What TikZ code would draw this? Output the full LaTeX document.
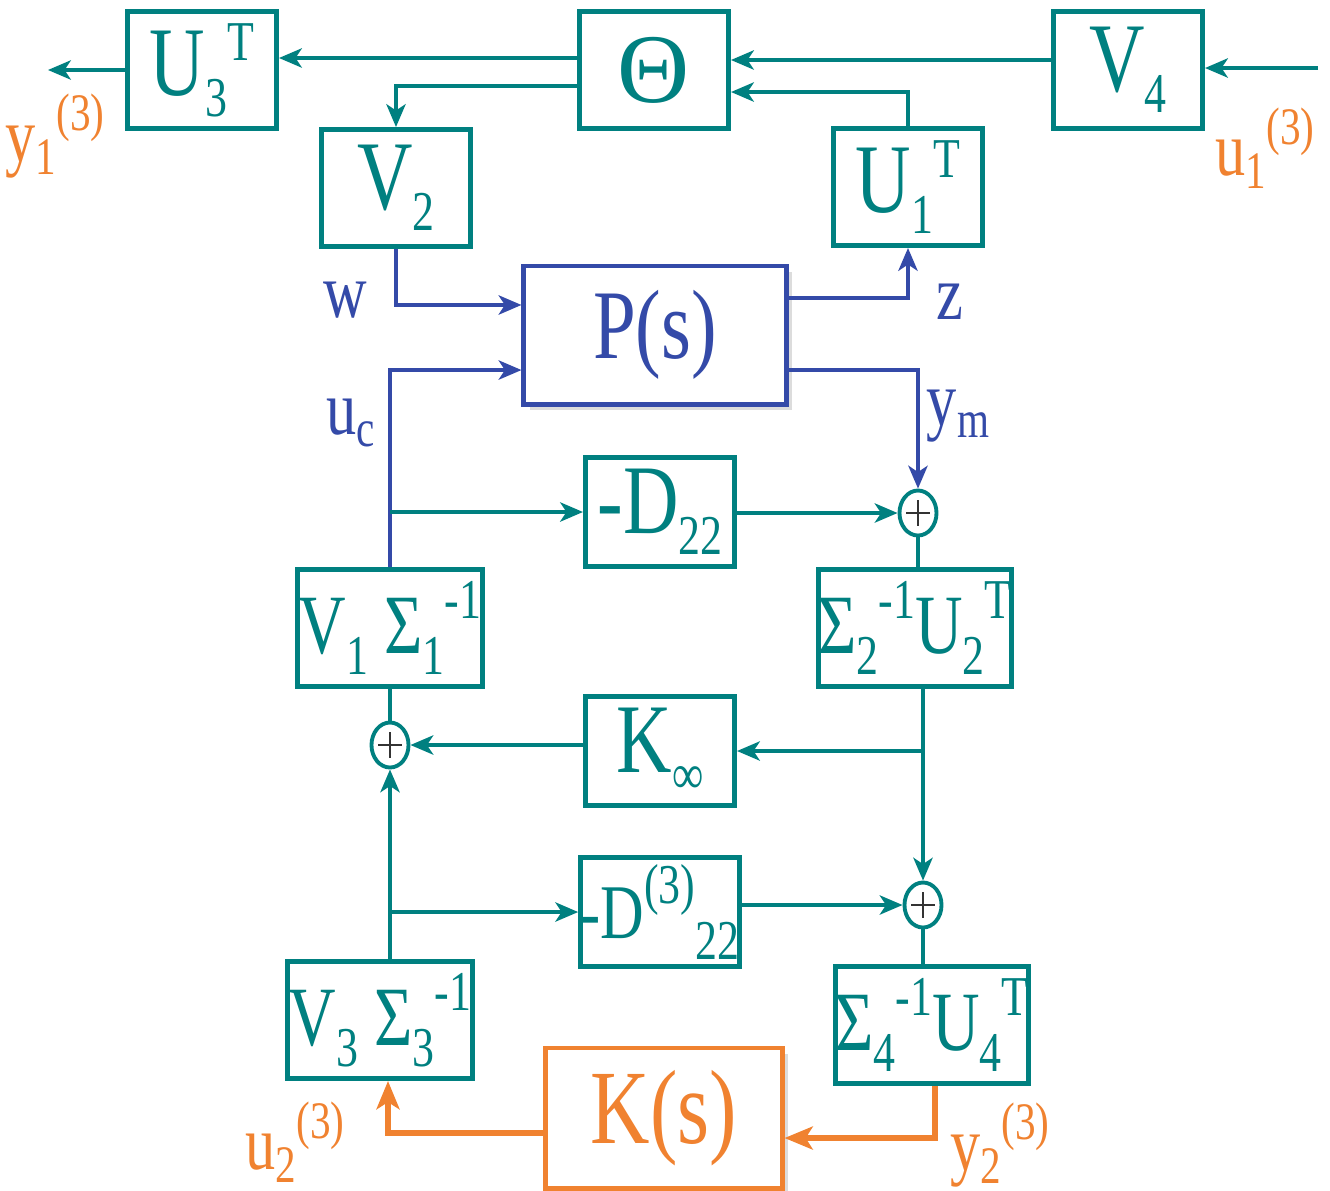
\documentclass[tikz,border=0pt]{standalone}
\usepackage{fontspec}
\newfontfamily\diagfont[FakeStretch=0.78]{Liberation Serif}
\usetikzlibrary{arrows.meta,shapes.geometric,shadows,calc}
\definecolor{myteal}{RGB}{0,128,128}
\definecolor{myblue}{RGB}{52,74,168}
\definecolor{myorange}{RGB}{240,130,48}
\newcommand{\boxfont}{\diagfont\fontsize{28}{32}\selectfont}
\newcommand{\wideboxfont}{\diagfont\fontsize{24}{28}\selectfont}
\newcommand{\narrowfont}{\diagfont\fontsize{22}{26}\selectfont}
\newcommand{\bigfont}{\diagfont\fontsize{30}{34}\selectfont}
\newcommand{\lblfont}{\diagfont\fontsize{22}{26}\selectfont}
\newcommand{\lo}[1]{\raisebox{-6pt}{\fontsize{16}{16}\selectfont #1}}
\newcommand{\hi}[1]{\raisebox{10pt}{\fontsize{16}{16}\selectfont #1}}
\newcommand{\llo}[1]{\raisebox{-3.5pt}{\fontsize{15}{15}\selectfont #1}}
\newcommand{\lhi}[1]{\raisebox{9pt}{\fontsize{15}{15}\selectfont #1}}
\tikzset{
  block/.style={
    draw=myteal,
    line width=1.4pt,
    fill=white,
    text=myteal,
    font=\boxfont,
    inner sep=0pt,
  },
  squarebox/.style={
    block,
    minimum width=1.49cm,
    minimum height=1.17cm,
  },
  widebox/.style={
    block,
    font=\wideboxfont,
    minimum width=1.85cm,
    minimum height=1.17cm,
  },
  gainbox/.style={
    block,
    minimum width=1.49cm,
    minimum height=1.09cm,
  },
  plantbox/.style={
    block,
    draw=myblue,
    text=myblue,
    minimum width=2.62cm,
    minimum height=1.38cm,
    drop shadow={shadow xshift=0.06cm, shadow yshift=-0.06cm, fill=gray!55},
  },
  ctrlbox/.style={
    plantbox,
    draw=myorange,
    text=myorange,
    font=\bigfont,
    minimum width=2.36cm,
    minimum height=1.40cm,
  },
  sumnode/.style={
    ellipse,
    draw=myteal,
    line width=1.1pt,
    fill=white,
    minimum width=0.37cm,
    minimum height=0.45cm,
    inner sep=0pt,
  },
  plusline/.style={black!80, line width=0.6pt},
  sig/.style={->, myteal, line width=1pt},
  link/.style={myteal, line width=1pt},
  bsig/.style={->, myblue, line width=1pt},
  osig/.style={->, myorange, line width=1.6pt,
    >={Stealth[length=8pt,width=6.5pt,inset=2pt]}},
  lbl/.style={font=\lblfont, inner sep=0pt},
}

\begin{document}
\begin{tikzpicture}[x=0.01cm, y=-0.01cm,
  >={Stealth[length=6.5pt,width=5.5pt,inset=1.8pt]}]

\useasboundingbox (0,0) rectangle (1330,1190);

% top row
\node[squarebox] (u3) at (202,70) {U\lo{3}\hi{T}};
\node[squarebox] (theta) at (654,70) {\scalebox{1.3}[1]{Θ}};
\node[squarebox] (v4) at (1128,70) {V\lo{4}};
\node[squarebox] (v2) at (396,188) {V\lo{2}};
\node[squarebox] (u1) at (908,187) {U\lo{1}\hi{T}};

% plant
\node[plantbox] (plant) at (655,335) {P(s)};

% inner loop
\node[gainbox] (d22) at (660,512) {-D\lo{22}};
\node[widebox] (v1) at (390,628) {V\lo{1} Σ\lo{1}\hi{-1}};
\node[widebox] (sig2) at (915,628) {Σ\lo{2}\hi{-1}U\lo{2}\hi{T}};
\node[gainbox] (kinf) at (660,751) {K\lo{∞}};
\node[gainbox, font=\narrowfont] (d322) at (660,912) {-D\hi{(3)}\lo{22}};
\node[widebox] (v3) at (380,1020) {V\lo{3} Σ\lo{3}\hi{-1}};
\node[widebox] (sig4) at (932,1025) {Σ\lo{4}\hi{-1}U\lo{4}\hi{T}};

% controller
\node[ctrlbox] (ks) at (664,1118) {K(s)};

\node[sumnode] (s1) at (918,513) {};
\node[sumnode] (s2) at (390,745) {};
\node[sumnode] (s3) at (923,905) {};
\foreach \s in {s1,s2,s3} {
  \draw[plusline] ($(\s)+(-12,0)$) -- ($(\s)+(12,0)$);
  \draw[plusline] ($(\s)+(0,-13)$) -- ($(\s)+(0,13)$);
}

\coordinate (y1out) at (48,68);
\coordinate (u1in) at (1318,68);

% signals
\draw[sig] ([yshift=0.12cm]theta.west) -- ([yshift=0.12cm]u3.east);
\draw[sig] (u3.west) -- (u3.west -| y1out);
\draw[sig] ([yshift=-0.16cm]theta.west) -| (v2.north);
\draw[sig] ([yshift=0.10cm]v4.west) -- ([yshift=0.10cm]theta.east);
\draw[sig] (u1in) -- (u1in -| v4.east);
\draw[sig] (u1.north) |- ([yshift=-0.22cm]theta.east);

\draw[bsig] (v2.south) |- ([yshift=0.30cm]plant.west);
\draw[bsig] ([yshift=0.37cm]plant.east) -| (u1.south);
\draw[bsig] (v1.north) |- ([yshift=-0.35cm]plant.west);
\draw[bsig] ([yshift=-0.35cm]plant.east) -| (s1.north);

\draw[sig] (v1.north |- d22.west) -- (d22.west);
\draw[sig] (d22.east |- s1.west) -- (s1.west);
\draw[link] (s1.south) -- (s1.south |- sig2.north);
\draw[sig] (s3.north |- sig2.south) -- (s3.north);
\draw[sig] (s3.north |- kinf.east) -- (kinf.east);
\draw[sig] (s2.east -| kinf.west) -- (s2.east);
\draw[link] (s2.north) -- (s2.north |- v1.south);
\draw[sig] (s2.south |- v3.north) -- (s2.south);
\draw[sig] (s2.south |- d322.west) -- (d322.west);
\draw[sig] (d322.east |- s3.west) -- (s3.west);
\draw[link] (s3.south) -- (s3.south |- sig4.north);

\draw[osig] ([xshift=0.03cm]sig4.south) |- ([yshift=-0.20cm]ks.east);
\draw[osig] ([yshift=-0.15cm]ks.west) -| ([xshift=0.08cm]v3.south);

% labels
\node[lbl, text=myorange] (y1lbl) at (55,136) {y\llo{1}\lhi{(3)}};
\node[lbl, text=myorange] (u1lbl) at (1265,148) {u\llo{1}\lhi{(3)}};
\node[lbl, text=myblue] (wlbl) at (345,300) {w};
\node[lbl, text=myblue] (zlbl) at (950,302) {z};
\node[lbl, text=myblue] (uclbl) at (351,423) {u\llo{c}};
\node[lbl, text=myblue] (ymlbl) at (958,416) {y\llo{m}};
\node[lbl, text=myorange] (u2lbl) at (295,1142) {u\llo{2}\lhi{(3)}};
\node[lbl, text=myorange] (y2lbl) at (1000,1145) {y\llo{2}\lhi{(3)}};

\end{tikzpicture}
\end{document}
